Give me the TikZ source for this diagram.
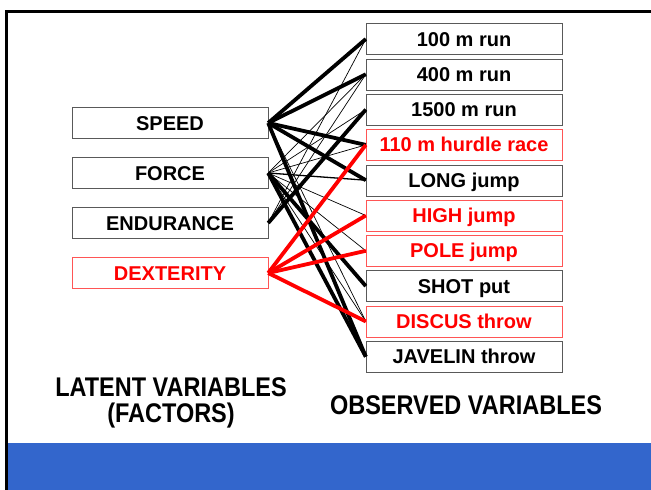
\documentclass[tikz,border=0pt]{standalone}
\usepackage{fontspec}
\usepackage{graphicx}
\setmainfont{Liberation Sans}
\definecolor{bandblue}{HTML}{3366CC}
\definecolor{boxred}{HTML}{FF5555}
\newcommand{\squeezed}[1]{\scalebox{0.87}[1]{#1}}

\begin{document}
\begin{tikzpicture}[x=1pt, y=-1pt,
        box/.style={draw=black!65, fill=white, inner sep=0pt, minimum width=196pt, minimum height=31pt,
            text height=14pt, text depth=0pt, font=\fontsize{20}{20}\selectfont\bfseries},
        redbox/.style={box, draw=boxred, text=red},
        heavy/.style={line width=3.8pt},
        medium/.style={line width=1.3pt},
        light/.style={line width=0.7pt},
        redlink/.style={red, line width=3.8pt},
        caption/.style={align=center, font=\fontsize{27}{26}\selectfont\bfseries}]
        \useasboundingbox (0,0) rectangle (651,490);
        \fill[white] (0,0) rectangle (651,490);
        \fill[bandblue] (7,443) rectangle (651,490);
        \draw[line width=3pt] (6.5,490) -- (6.5,11) -- (651,11);
        % factors
        \node[box] (speed) at (170,123) {SPEED};
        \node[box] (force) at (170,173) {FORCE};
        \node[box] (endurance) at (170,223) {ENDURANCE};
        \node[redbox] (dexterity) at (170,273) {DEXTERITY};
        % events
        \node[box] (run100) at (464,39) {100 m run};
        \node[box] (run400) at (464,74.3) {400 m run};
        \node[box] (run1500) at (464,109.6) {1500 m run};
        \node[redbox] (hurdle) at (464,144.9) {110 m hurdle race};
        \node[box] (longjump) at (464,180.2) {LONG jump};
        \node[redbox] (highjump) at (464,215.5) {HIGH jump};
        \node[redbox] (polejump) at (464,250.8) {POLE jump};
        \node[box] (shotput) at (464,286.1) {SHOT put};
        \node[redbox] (discus) at (464,321.4) {DISCUS throw};
        \node[box] (javelin) at (464,356.7) {JAVELIN throw};
        % weak loadings
        \draw[light] (force.east)--(run400.west);
        \draw[light] (force.east)--(run1500.west);
        \draw[light] (force.east)--(hurdle.west);
        \draw[light] (endurance.east)--(run400.west);
        \draw[light] (endurance.east)--(run100.west);
        \draw[light] (force.east)--(highjump.west);
        \draw[light] (force.east)--(polejump.west);
        \draw[light] (force.east)--(discus.west);
        \draw[light] (speed.east)--(discus.west);
        \draw[medium] (force.east)--(longjump.west);
        % strong loadings
        \draw[heavy] (speed.east)--(run100.west);
        \draw[heavy] (speed.east)--(run400.west);
        \draw[heavy] (speed.east)--(hurdle.west);
        \draw[heavy] (speed.east)--(longjump.west);
        \draw[heavy] (speed.east)--(javelin.west);
        \draw[heavy] (endurance.east)--(run1500.west);
        \draw[heavy] (force.east)--(shotput.west);
        \draw[heavy] (force.east)--(javelin.west);
        \draw[redlink] (dexterity.east)--(hurdle.west);
        \draw[redlink] (dexterity.east)--(highjump.west);
        \draw[redlink] (dexterity.east)--(polejump.west);
        \draw[redlink] (dexterity.east)--(discus.west);
        % captions
        \node[caption] (latent) at (171,403) {\squeezed{LATENT VARIABLES}\\\squeezed{(FACTORS)}};
        \node[caption] (observed) at (466,405) {\squeezed{OBSERVED VARIABLES}};
\end{tikzpicture}
\end{document}
